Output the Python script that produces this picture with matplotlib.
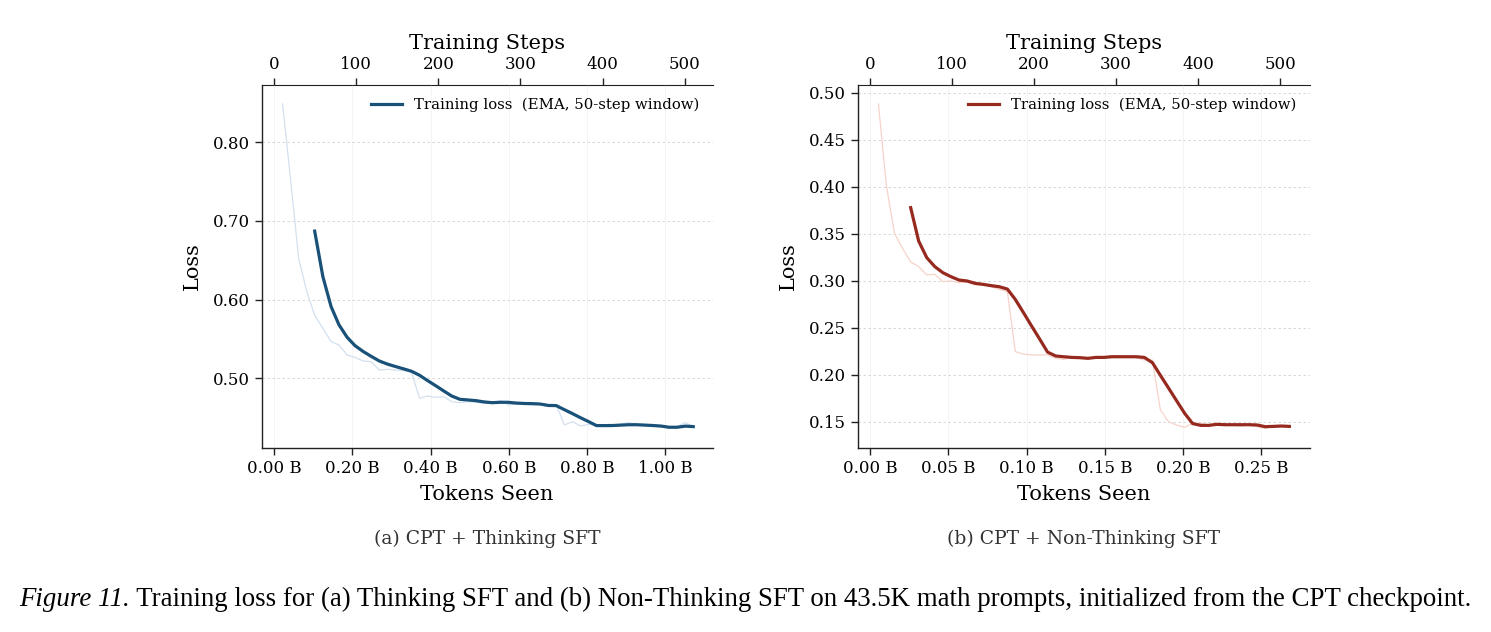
import matplotlib
matplotlib.use("Agg")
from matplotlib import pyplot as plt
from matplotlib.ticker import FuncFormatter, MultipleLocator

## data (tokens in billions)
tok_a = [0.022, 0.043, 0.063, 0.084, 0.104, 0.125, 0.146, 0.166, 0.187, 0.207,
         0.228, 0.248, 0.269, 0.290, 0.310, 0.331, 0.351, 0.372, 0.392, 0.413,
         0.434, 0.454, 0.475, 0.495, 0.516, 0.536, 0.557, 0.578, 0.598, 0.619,
         0.639, 0.660, 0.680, 0.701, 0.721, 0.742, 0.763, 0.783, 0.804, 0.824,
         0.845, 0.865, 0.886, 0.907, 0.927, 0.948, 0.968, 0.989, 1.009, 1.030,
         1.051, 1.071]
raw_a = [0.8486, 0.750, 0.6525, 0.610, 0.580, 0.5635, 0.5466, 0.5423, 0.5296, 0.5266,
         0.522, 0.5211, 0.5105, 0.5114, 0.5105, 0.5097, 0.508,
         0.4746, 0.4775, 0.4758, 0.4766, 0.4703, 0.469, 0.4703, 0.4695, 0.4682,
         0.4682, 0.4716, 0.4661, 0.4673, 0.4669, 0.4661, 0.4669, 0.464, 0.4661,
         0.4407, 0.4449, 0.4394, 0.4415, 0.4403, 0.4399, 0.4403, 0.442, 0.4437,
         0.4415, 0.4407, 0.4394, 0.4386, 0.4373, 0.4386, 0.4437, 0.4386]
ema_a = [0.687, 0.629, 0.591, 0.568, 0.552, 0.5415, 0.534, 0.528, 0.522, 0.518,
         0.515, 0.512, 0.509,
         0.5038, 0.4972, 0.4906, 0.4838, 0.4775,
         0.4733, 0.4725, 0.4716, 0.470, 0.469, 0.4695, 0.4695, 0.4685, 0.468,
         0.4678, 0.4673, 0.4655,
         0.4653, 0.4601, 0.455, 0.4499, 0.4449, 0.4399,
         0.4399, 0.440, 0.4405, 0.441, 0.441, 0.4405, 0.440, 0.4393, 0.4378,
         0.4378, 0.4392, 0.4386]

tok_b = [0.0053, 0.0104, 0.0156, 0.0207, 0.0259, 0.0310, 0.0362, 0.0413, 0.0465, 0.0516,
         0.0568, 0.0619, 0.0671, 0.0722, 0.0774, 0.0825, 0.0877, 0.0928, 0.0980, 0.1031,
         0.1083, 0.1134, 0.1186, 0.1237, 0.1289, 0.1340, 0.1392, 0.1443, 0.1495, 0.1546,
         0.1598, 0.1649, 0.1701, 0.1752, 0.1804, 0.1855, 0.1907, 0.1958, 0.2010, 0.2061,
         0.2113, 0.2164, 0.2216, 0.2267, 0.2319, 0.2370, 0.2422, 0.2473, 0.2525, 0.2576,
         0.2628, 0.2679]
raw_b = [0.488, 0.401, 0.3504, 0.3344, 0.320, 0.315, 0.306, 0.3068, 0.299, 0.2997,
         0.2979, 0.2986, 0.2954, 0.2954, 0.2936, 0.2908, 0.2883,
         0.2245, 0.222, 0.221, 0.221, 0.221, 0.2174, 0.2163, 0.2184, 0.2181,
         0.2174, 0.2184, 0.2191, 0.2202, 0.2191, 0.2198, 0.2181, 0.2156, 0.2156,
         0.1624, 0.150, 0.1465, 0.144, 0.1482, 0.1482, 0.1465, 0.1482, 0.1465,
         0.1465, 0.1454, 0.1465, 0.1447, 0.1429, 0.1454, 0.1454, 0.1447]
ema_b = [0.3777, 0.3422, 0.3245, 0.315, 0.3085, 0.3043, 0.3007, 0.2997, 0.2972, 0.2961,
         0.2947, 0.2936, 0.2911,
         0.280, 0.266, 0.252, 0.238, 0.224,
         0.2199, 0.2191, 0.2184, 0.2181, 0.2174, 0.2184, 0.2184, 0.2191, 0.2191,
         0.2191, 0.2191, 0.2184,
         0.2128, 0.1993, 0.1858, 0.1724, 0.1589, 0.148,
         0.1461, 0.1461, 0.1472, 0.1468, 0.1468, 0.1468, 0.1468, 0.1465, 0.1447,
         0.145, 0.1454, 0.145]

step_ticks = [0, 100, 200, 300, 400, 500]
tokens_per_step_a = 0.0020986   # B tokens per training step
tokens_per_step_b = 0.00052386

plt.rcParams['font.family'] = 'DejaVu Serif'

fig = plt.figure(figsize=(14.91, 6.32), dpi=100)
ax_a = fig.add_axes([0.1755, 0.2911, 0.3025, 0.5749])
ax_b = fig.add_axes([0.5753, 0.2911, 0.3032, 0.5749])


def draw(ax, tok, raw, ema, color, rawcolor, tps, ylim, ystep):
    ax.plot(tok, raw, color=rawcolor, lw=0.9)
    ax.plot(tok[4:], ema, color=color, lw=2.3, label="Training loss  (EMA, 50-step window)")
    ax.set_ylim(*ylim)
    ax.yaxis.set_major_locator(MultipleLocator(ystep))
    ax.yaxis.set_major_formatter(FuncFormatter(lambda v, p: "%.2f" % v))
    ax.xaxis.set_major_formatter(FuncFormatter(lambda v, p: "%.2f B" % v))
    ax.grid(axis='y', ls=(0, (3, 3)), color='#cccccc', lw=0.6, alpha=0.9)
    ax.grid(axis='x', ls='-', color='#cccccc', lw=0.5, alpha=0.3)
    ax.spines['right'].set_visible(False)
    ax.spines['top'].set_visible(False)
    for s in ['left', 'bottom']:
        ax.spines[s].set_color('#222222')
        ax.spines[s].set_linewidth(1.0)
    ax.tick_params(labelsize=12, length=5, width=1, color='#222222')
    ax.set_xlabel("Tokens Seen", fontsize=15, labelpad=6)
    ax.set_ylabel("Loss", fontsize=15, labelpad=8)
    ax.legend(loc='upper right', frameon=False, fontsize=10.7, handlelength=2.1,
              borderaxespad=0.5)
    top = ax.secondary_xaxis('top', functions=(lambda t: t / tps, lambda s: s * tps))
    top.set_xticks(step_ticks)
    top.tick_params(labelsize=12, length=5, width=1, color='#222222')
    top.spines['top'].set_color('#222222')
    top.set_xlabel("Training Steps", fontsize=15, labelpad=5)


draw(ax_a, tok_a, raw_a, ema_a, '#1a5179', '#d3e0ee', tokens_per_step_a,
     (0.4114, 0.873), 0.10)
ax_a.set_xticks([0.0, 0.2, 0.4, 0.6, 0.8, 1.0])
draw(ax_b, tok_b, raw_b, ema_b, '#972a1f', '#f6d3ca', tokens_per_step_b,
     (0.122, 0.5085), 0.05)
ax_b.set_xticks([0.0, 0.05, 0.10, 0.15, 0.20, 0.25])
ax_a.set_xlim(-0.0314, 1.1208)
ax_b.set_xlim(-0.0079, 0.2810)

fig.text(0.3270, 0.148, "(a) CPT + Thinking SFT", ha='center', va='center',
         fontsize=13.5, color='#333333')
fig.text(0.7267, 0.148, "(b) CPT + Non-Thinking SFT", ha='center', va='center',
         fontsize=13.5, color='#333333')

## caption: italic label + regular text, centered together
cap_it = "Figure 11."
cap_rm = " Training loss for (a) Thinking SFT and (b) Non-Thinking SFT on 43.5K math prompts, initialized from the CPT checkpoint."
r = fig.canvas.get_renderer()
t1 = fig.text(0, 0.051, cap_it, fontsize=19.4, family='Liberation Serif', style='italic', va='center')
t2 = fig.text(0, 0.051, cap_rm, fontsize=19.4, family='Liberation Serif', va='center')
w1 = t1.get_window_extent(r).width
w2 = t2.get_window_extent(r).width
x0 = (fig.bbox.width - w1 - w2) / 2
t1.set_x(x0 / fig.bbox.width)
t2.set_x((x0 + w1) / fig.bbox.width)

fig.savefig("out.png", dpi=100)
